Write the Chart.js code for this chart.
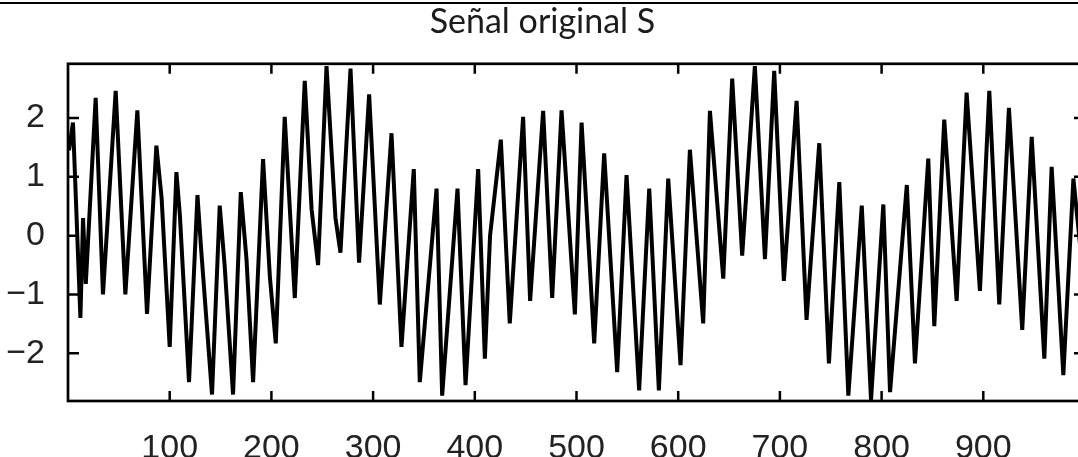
<!DOCTYPE html>
<html>
<head>
<meta charset="utf-8">
<title>Señal original S</title>
<script src="https://cdn.jsdelivr.net/npm/chart.js@4.4.1/dist/chart.umd.min.js"></script>
<style>
    html, body { margin: 0; padding: 0; background: #fff; overflow: hidden; }
    #wrap { position: relative; width: 1078px; height: 457px; overflow: hidden; }
    #topLine { position: absolute; left: 0; top: 2px; width: 1078px; height: 2px; background: #000; z-index: 2; }
    #chart { position: absolute; left: 0; top: 0; }
</style>
</head>
<body>
<div id="wrap">
    <div id="topLine"></div>
    <canvas id="chart" width="1100" height="457"></canvas>
</div>
<script>
// Data: sample index and value of the signal
const sampleIndex = [
    1, 4.9, 12.2, 14.8, 17.5, 27.2, 34.4, 46.9, 56.4, 68.2, 77.7, 86.9, 92, 100, 106.6, 110, 119,
    127.3, 131, 141.6, 149.2, 154, 162.3, 169.9, 175.5, 182, 191.8, 198.5, 204.3, 213.1, 223, 232.8, 239.5,
    245.9, 254.2, 263, 267.9, 277.8, 286.2, 296.1, 306.6, 318.1, 327.9, 340, 345.9, 362.4,
    367.9, 383, 390.9, 403.3, 409.9, 415, 425.6, 434.4, 447.5, 454.4, 467.2, 476.1, 485.3,
    498.4, 505, 517.4, 527.2, 540, 549.2, 561.6, 571.5, 581, 590.2, 602.3,
    611.5, 624.6, 631.2, 644.3, 653.1, 662.9, 675.4, 685.3, 694.4, 703.9, 716.4, 726.2,
    738.7, 748.2, 758.4, 767.3, 780.5, 789.6, 801.7, 808.3, 824.8, 832.8, 845.9, 851.8,
    861.6, 873.8, 883.6, 896.7, 905.9, 915.7, 925.2, 938.3, 947.6, 960, 967.2, 978.7, 988.6, 1000
];
const signalS = [
    1.45, 1.92, -1.40, 0.30, -0.82, 2.34, -1.00, 2.46, -1.00, 2.13, -1.33, 1.53, 0.65, -1.89, 1.08, 0.35, -2.49,
    0.69, -0.25, -2.70, 0.51, -0.50, -2.70, 0.74, -0.40, -2.49, 1.30, -0.70, -1.83, 2.02, -1.06, 2.63, 0.45,
    -0.50, 2.88, 0.30, -0.29, 2.84, -0.46, 2.40, -1.17, 1.74, -1.89, 1.13, -2.49, 0.80,
    -2.72, 0.80, -2.54, 1.13, -2.09, 0.00, 1.63, -1.49, 2.02, -1.11, 2.12, -1.06, 2.13,
    -1.34, 1.92, -1.83, 1.40, -2.32, 1.03, -2.63, 0.80, -2.63, 0.97, -2.20,
    1.46, -1.49, 2.12, -0.73, 2.67, -0.34, 2.88, -0.40, 2.80, -0.77, 2.29, -1.43,
    1.57, -2.17, 0.91, -2.72, 0.51, -2.79, 0.53, -2.66, 0.86, -2.17, 1.31, -1.54,
    1.97, -1.11, 2.43, -0.94, 2.46, -1.17, 2.17, -1.60, 1.68, -2.09, 1.17, -2.37, 0.97, -1.00
];

// Tick labels
const xTicks = [100, 200, 300, 400, 500, 600, 700, 800, 900];
const yTicks = [-2, -1, 0, 1, 2];

const chartTitle = 'Señal original S';

// Box around the axes with inward tick marks, like the original plot
const boxPlugin = {
    id: 'boxPlugin',
    afterDraw(chart) {
        const { ctx, chartArea, scales } = chart;
        const { left, right, top, bottom } = chartArea;
        ctx.save();
        ctx.strokeStyle = '#000';
        ctx.lineWidth = 2.7;
        ctx.strokeRect(left, top, right - left, bottom - top);
        ctx.lineWidth = 2.5;
        ctx.beginPath();
        xTicks.forEach(v => {
            const px = scales.x.getPixelForValue(v);
            ctx.moveTo(px, bottom);
            ctx.lineTo(px, bottom - 10);
            ctx.moveTo(px, top);
            ctx.lineTo(px, top + 10);
        });
        yTicks.forEach(v => {
            const py = scales.y.getPixelForValue(v);
            ctx.moveTo(left, py);
            ctx.lineTo(left + 11, py);
            ctx.moveTo(right, py);
            ctx.lineTo(right - 11, py);
        });
        ctx.stroke();
        ctx.restore();
    }
};

const ctx = document.getElementById('chart').getContext('2d');

new Chart(ctx, {
    type: 'line',
    data: {
        datasets: [{
            label: 'S',
            data: sampleIndex.map((x, i) => ({ x: x, y: signalS[i] })),
            borderColor: '#000',
            borderWidth: 4,
            borderJoinStyle: 'bevel',
            pointRadius: 0,
            tension: 0,
            fill: false
        }]
    },
    options: {
        responsive: false,
        animation: false,
        layout: { padding: { left: 0, right: 15, top: 0, bottom: 0 } },
        plugins: {
            legend: { display: false },
            tooltip: { enabled: false },
            title: {
                display: true,
                text: chartTitle,
                color: '#1b1b1b',
                font: { family: 'Lato', size: 34, weight: 'normal' },
                padding: { top: 2, bottom: 21 }
            }
        },
        scales: {
            x: {
                type: 'linear',
                min: 0,
                max: 1000,
                grid: { display: false },
                border: { display: false },
                afterBuildTicks: scale => { scale.ticks = xTicks.map(v => ({ value: v })); },
                afterFit: scale => { scale.height = 56; },
                ticks: {
                    color: '#222',
                    padding: 19,
                    maxRotation: 0,
                    font: { family: 'Liberation Sans', size: 34 },
                    callback: v => String(v)
                }
            },
            y: {
                type: 'linear',
                min: -2.81,
                max: 2.92,
                grid: { display: false },
                border: { display: false },
                afterBuildTicks: scale => { scale.ticks = yTicks.map(v => ({ value: v })); },
                afterFit: scale => { scale.width = 68; },
                ticks: {
                    color: '#222',
                    padding: 15,
                    font: { family: 'Liberation Sans', size: 34 },
                    callback: v => (v < 0 ? '\u2212' + Math.abs(v) : String(v))
                }
            }
        }
    },
    plugins: [boxPlugin]
});
</script>
</body>
</html>
